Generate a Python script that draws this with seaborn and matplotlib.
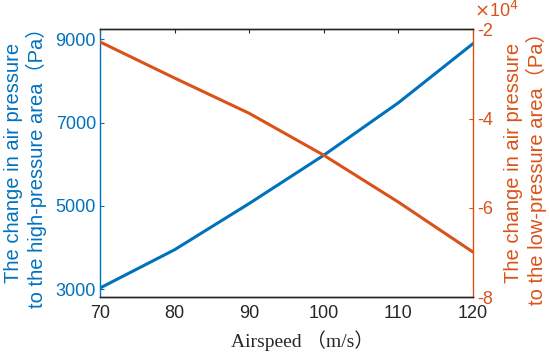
import matplotlib
matplotlib.use("Agg")
import matplotlib.pyplot as plt
import matplotlib.ticker as mticker
import pandas as pd
import seaborn as sns

# values
airspeed = [70, 80, 90, 100, 110, 120]
high_pressure = [3030, 3950, 5060, 6220, 7480, 8900]
low_pressure = [-22800, -30900, -38800, -48200, -58700, -69900]

blue = "#0072BD"
orange = "#D95319"

df = pd.DataFrame({"airspeed": airspeed, "high": high_pressure, "low": low_pressure})

sns.set_style("white")
plt.rcParams["font.family"] = ["Liberation Sans", "Noto Sans CJK SC"]
plt.rcParams["axes.unicode_minus"] = False

fig = plt.figure(figsize=(5.5, 3.55), dpi=100)
ax = fig.add_axes([0.182, 0.163, 0.678, 0.754])
ax2 = ax.twinx()

sns.lineplot(data=df, x="airspeed", y="high", color=blue, lw=2.2, ax=ax)
sns.lineplot(data=df, x="airspeed", y="low", color=orange, lw=2.2, ax=ax2)

ax.set_xlim(70, 120)
ax.set_ylim(2810, 9240)
ax.set_xticks([70, 80, 90, 100, 110, 120])
ax.set_yticks([3000, 5000, 7000, 9000])
ax2.set_ylim(-80000, -20000)
ax2.set_yticks([-80000, -60000, -40000, -20000])

# right axis in units of 1e4, with the multiplier written above the axis
ax2.yaxis.set_major_formatter(mticker.FuncFormatter(lambda v, p: f"{v / 1e4:g}"))
ax2.text(1.003, 1.03, r"$\times$10$^{4}$", transform=ax2.transAxes,
         color=orange, fontsize=13, ha="left", va="bottom")

ax.tick_params(axis="x", direction="in", length=3, labelsize=13, colors="#262626",
               top=True, pad=6)
ax.tick_params(axis="y", direction="in", length=3, labelsize=13, colors=blue, pad=3)
ax2.tick_params(axis="y", direction="in", length=3, labelsize=13, colors=orange, pad=3)

for a in (ax, ax2):
    for s in a.spines.values():
        s.set_linewidth(1.0)
        s.set_color("#262626")
ax.spines["right"].set_visible(False)
ax2.spines["left"].set_visible(False)
ax.spines["left"].set_color(blue)
ax2.spines["right"].set_color(orange)

ax.set_xlabel("Airspeed （m/s）", family=["Liberation Serif", "Noto Sans CJK SC"],
              fontsize=14, color="#262626")
ax.xaxis.set_label_coords(0.543, -0.125)
ax.set_ylabel("The change in air pressure\nto the high-pressure area（Pa）",
              fontsize=14.5, color=blue, labelpad=6, linespacing=1.15)
ax2.set_ylabel("The change in air pressure\nto the low-pressure area（Pa）",
               fontsize=14.5, color=orange, labelpad=8, linespacing=1.15,
               rotation=90)

fig.savefig("out.png", dpi=100)
